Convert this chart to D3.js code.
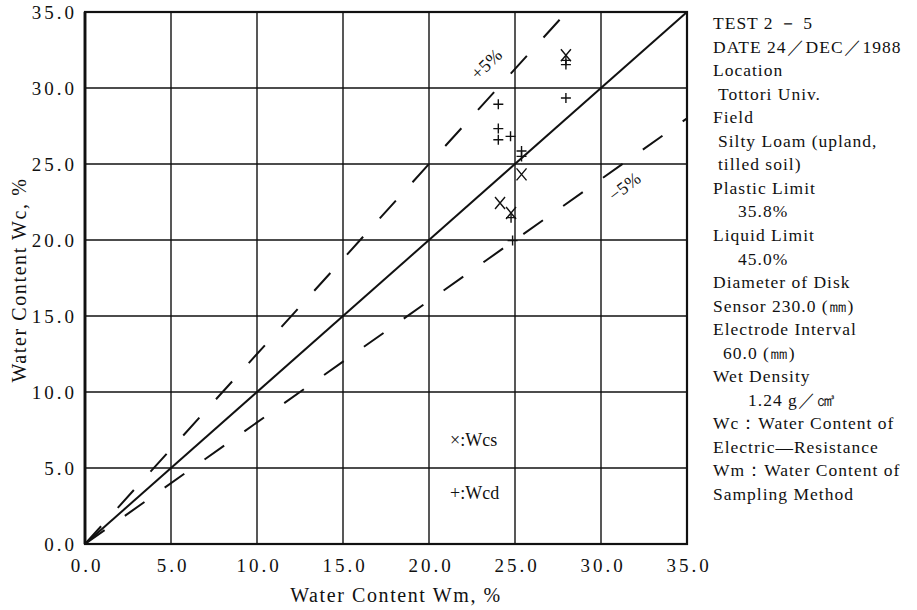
<!DOCTYPE html>
<html><head><meta charset="utf-8">
<script src="https://cdn.jsdelivr.net/npm/d3@7/dist/d3.min.js"></script>
<style>
html,body{margin:0;padding:0;background:#fff;}
svg{display:block;}
</style></head>
<body>
<svg id="chart" width="917" height="610"></svg>
<script>
// ---- data ----
const tickValues = [0, 5, 10, 15, 20, 25, 30, 35];
const wcsWm = [27.96, 25.38, 24.13, 24.77];
const wcsWc = [32.15, 24.32, 22.43, 21.78];
const wcdWm = [27.96, 27.96, 27.96, 24.03, 24.03, 24.03, 24.74, 25.38, 25.38, 24.77, 24.86];
const wcdWc = [31.82, 31.54, 29.34, 28.93, 27.33, 26.60, 26.82, 25.86, 25.50, 21.47, 19.96];
const upperRatio = 1.25;   // "+5%" line
const lowerRatio = 0.80;   // "-5%" line
const infoLines = ["TEST  2 － 5", "DATE 24／DEC／1988", "Location", "Tottori Univ.", "Field",
  "Silty Loam (upland,", "tilled soil)", "Plastic Limit", "35.8%", "Liquid Limit", "45.0%",
  "Diameter of Disk", "Sensor 230.0 (㎜)", "Electrode Interval", "60.0 (㎜)", "Wet Density",
  "1.24 g／㎤", "Wc：Water Content of", "Electric—Resistance", "Wm：Water Content of", "Sampling Method"];
const infoIndent = [0,0,0,1,0,1,1,0,5,0,5,0,0,0,2,0,7,0,0,0,0];

// ---- layout ----
const FF = '"Liberation Serif", "Times New Roman"';
const svg = d3.select("#chart");
const x = d3.scaleLinear().domain([0, 35]).range([85, 687]);
const y = d3.scaleLinear().domain([0, 35]).range([544, 12]);
const fmt = d3.format(".1f");

// grid
const g = svg.append("g");
g.selectAll("line.vg").data(tickValues.slice(1, -1)).join("line")
  .attr("x1", d => x(d)).attr("x2", d => x(d)).attr("y1", y(0)).attr("y2", y(35))
  .attr("stroke", "#111").attr("stroke-width", 1.4);
g.selectAll("line.hg").data(tickValues.slice(1, -1)).join("line")
  .attr("y1", d => y(d)).attr("y2", d => y(d)).attr("x1", x(0)).attr("x2", x(35))
  .attr("stroke", "#111").attr("stroke-width", 1.4);
svg.append("rect").attr("x", x(0)).attr("y", y(35)).attr("width", x(35) - x(0)).attr("height", y(0) - y(35))
  .attr("fill", "none").attr("stroke", "#111").attr("stroke-width", 2.2);
svg.append("line").attr("x1", x(0)).attr("x2", x(0)).attr("y1", y(0)).attr("y2", y(35))
  .attr("stroke", "#111").attr("stroke-width", 2.8);

// axes labels via d3 axes
const xAxis = svg.append("g").attr("transform", `translate(0,${y(0) + 11})`)
  .call(d3.axisBottom(x).tickValues(tickValues).tickFormat(fmt).tickSize(0));
xAxis.select(".domain").remove();
xAxis.selectAll("text").style("font-family", FF).attr("font-size", 19)
  .attr("letter-spacing", 3).attr("dx", 1.5).attr("fill", "#111");
const yAxis = svg.append("g").attr("transform", `translate(${x(0) - 5},0)`)
  .call(d3.axisLeft(y).tickValues(tickValues).tickFormat(fmt).tickSize(0));
yAxis.select(".domain").remove();
yAxis.selectAll("text").style("font-family", FF).attr("font-size", 19)
  .attr("letter-spacing", 3).attr("fill", "#111");

// reference lines
const line = d3.line().x(d => x(d[0])).y(d => y(d[1]));
svg.append("path").attr("d", line([[0, 0], [35, 35]])).attr("fill", "none")
  .attr("stroke", "#111").attr("stroke-width", 2);
svg.append("path").attr("d", line([[0, 0], [35 / upperRatio, 35]])).attr("fill", "none")
  .attr("stroke", "#111").attr("stroke-width", 2).attr("stroke-dasharray", "24,24.8");
svg.append("path").attr("d", line([[0, 0], [35, 35 * lowerRatio]])).attr("fill", "none")
  .attr("stroke", "#111").attr("stroke-width", 2).attr("stroke-dasharray", "24,24.8");

svg.append("text").attr("transform", `translate(${x(23.6)},${y(31.3)}) rotate(-44)`)
  .style("font-family", FF).attr("text-anchor", "middle").attr("font-size", 18)
  .attr("letter-spacing", 0.5).attr("fill", "#111").text("+5%");
svg.append("text").attr("transform", `translate(${x(31.6)},${y(23.2)}) rotate(-38)`)
  .style("font-family", FF).attr("text-anchor", "middle").attr("font-size", 18)
  .attr("letter-spacing", 0.5).attr("fill", "#111").text("−5%");

// markers
const ms = 5;
const wcs = wcsWm.map((v, i) => [v, wcsWc[i]]);
const wcd = wcdWm.map((v, i) => [v, wcdWc[i]]);
svg.append("g").selectAll("path").data(wcs).join("path")
  .attr("d", d => { const cx = x(d[0]), cy = y(d[1]);
    return `M${cx - ms},${cy - ms * 1.2}L${cx + ms},${cy + ms * 1.2}M${cx + ms},${cy - ms * 1.2}L${cx - ms},${cy + ms * 1.2}`; })
  .attr("stroke", "#111").attr("stroke-width", 1.4).attr("fill", "none");
svg.append("g").selectAll("path").data(wcd).join("path")
  .attr("d", d => { const cx = x(d[0]), cy = y(d[1]);
    return `M${cx - ms},${cy}L${cx + ms},${cy}M${cx},${cy - ms}L${cx},${cy + ms}`; })
  .attr("stroke", "#111").attr("stroke-width", 1.4).attr("fill", "none");

// legend
svg.append("text").attr("x", 450).attr("y", 446).style("font-family", FF)
  .attr("font-size", 18).attr("fill", "#111").text("×:Wcs");
svg.append("text").attr("x", 450).attr("y", 499).style("font-family", FF)
  .attr("font-size", 18).attr("fill", "#111").text("+:Wcd");

// axis titles
svg.append("text").attr("x", 396).attr("y", 602).attr("text-anchor", "middle")
  .style("font-family", FF).attr("font-size", 20).attr("letter-spacing", 1.6)
  .attr("fill", "#111").text("Water Content Wm,  %");
svg.append("text").attr("transform", "translate(26,280) rotate(-90)").attr("text-anchor", "middle")
  .style("font-family", FF).attr("font-size", 20).attr("letter-spacing", 1.6)
  .attr("fill", "#111").text("Water Content Wc,  %");

// info block
svg.append("g").selectAll("text").data(infoLines).join("text")
  .attr("x", (d, i) => 713 + infoIndent[i] * 5)
  .attr("y", (d, i) => 29 + i * 23.55)
  .style("font-family", FF).attr("font-size", 17.5).attr("letter-spacing", 1.0)
  .attr("fill", "#111").text(d => d);
</script>
</body></html>
